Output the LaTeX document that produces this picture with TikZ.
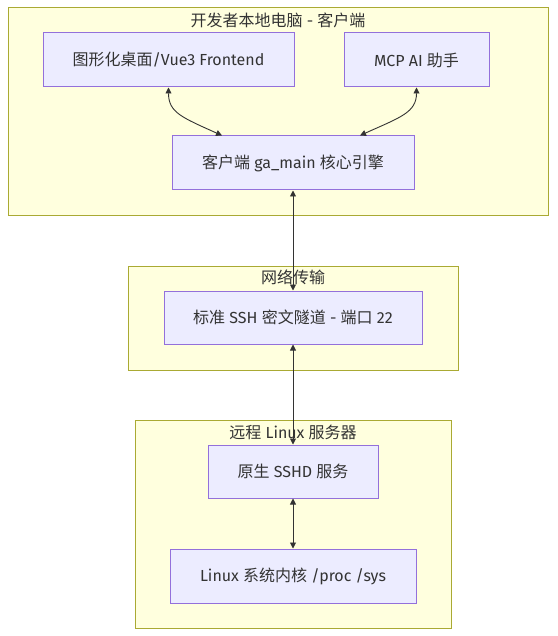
\documentclass[tikz,border=0pt]{standalone}
\usepackage{fontspec}
\setmainfont{Fira Sans}
\newfontfamily\cjk{Noto Sans CJK SC}
\usetikzlibrary{arrows.meta}
\definecolor{clfill}{HTML}{FFFFDE}
\definecolor{cldraw}{HTML}{AAAA33}
\definecolor{ndfill}{HTML}{ECECFF}
\definecolor{nddraw}{HTML}{9370DB}
\definecolor{txt}{HTML}{333333}
\begin{document}
\begin{tikzpicture}[x=1pt,y=-1pt,
  every node/.style={font=\fontsize{16}{19}\selectfont, text=txt},
  cluster/.style={draw=cldraw, fill=clfill, line width=1pt, inner sep=0pt},
  cltitle/.style={inner sep=0pt},
  box/.style={draw=nddraw, fill=ndfill, line width=1pt, inner sep=0pt, minimum height=54pt},
  arr/.style={draw=txt, line width=0.9pt, {Triangle[length=6pt,width=6pt]}-{Triangle[length=6pt,width=6pt]}}
]
\useasboundingbox (0,0) rectangle (557,636);
\fill[white] (0,0) rectangle (557,636);
% clusters
\node[cluster, minimum width=540pt, minimum height=207pt] (g1) at (278,111.5) {};
\node[cluster, minimum width=330pt, minimum height=104pt] (g2) at (293,318) {};
\node[cluster, minimum width=316pt, minimum height=208pt] (g3) at (293,524) {};
\node[cltitle] (t1) at (278,20) {{\cjk 开发者本地电脑} - {\cjk 客户端}};
\node[cltitle] (t2) at (293,277) {{\cjk 网络传输}};
\node[cltitle] (t3) at (293,432) {{\cjk 远程} Linux {\cjk 服务器}};
% nodes
\node[box, minimum width=251pt] (A) at (168.5,60) {{\cjk 图形化桌面}/Vue3 Frontend};
\node[box, minimum width=145pt] (B) at (416.5,60) {MCP AI {\cjk 助手}};
\node[box, minimum width=242pt] (C) at (293,163) {{\cjk 客户端} ga\_main {\cjk 核心引擎}};
\node[box, minimum width=258pt, minimum height=53pt] (D) at (293,317.5) {{\cjk 标准} SSH {\cjk 密文隧道} - {\cjk 端口} 22};
\node[box, minimum width=170pt, minimum height=53pt] (E) at (293,471.5) {{\cjk 原生} SSHD {\cjk 服务}};
\node[box, minimum width=246pt] (F) at (293,576) {Linux {\cjk 系统内核} /proc /sys};
% edges
\draw[arr] (A.south) .. controls +(0,25) and +(-40,-18) .. ([xshift=-71pt]C.north);
\draw[arr] (B.south) .. controls +(0,25) and +(40,-18) .. ([xshift=67pt]C.north);
\draw[arr] (C.south) -- (D.north);
\draw[arr] (D.south) -- (E.north);
\draw[arr] (E.south) -- (F.north);
\end{tikzpicture}
\end{document}
